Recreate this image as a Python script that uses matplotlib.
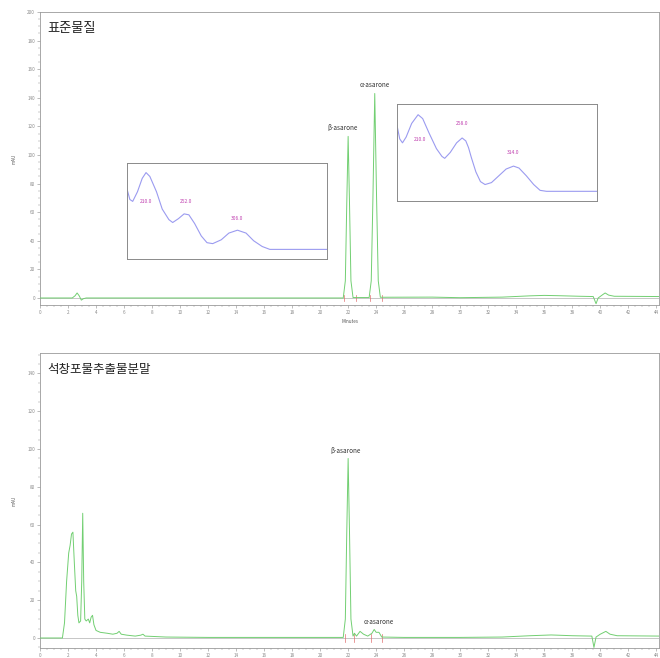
import matplotlib
matplotlib.use("Agg")
import matplotlib.pyplot as plt
from matplotlib.ticker import MultipleLocator, AutoMinorLocator

plt.rcParams['font.family'] = ['Noto Sans CJK KR', 'DejaVu Sans']

# 표준물질 chromatogram (minutes, mAU)
std_t = [0.0, 2.3, 2.5, 2.65, 2.8, 2.95, 3.1, 3.3, 21.65, 21.8, 21.9, 22.0,
         22.1, 22.2, 22.35, 23.5, 23.65, 23.77, 23.9, 24.03, 24.15, 24.3,
         28.0, 30.0, 33.0, 35.0, 36.0, 37.0, 38.5, 39.5, 39.7, 39.85, 40.2,
         40.35, 40.6, 41.0, 44.3]
std_v = [0.0, 0.0, 1.5, 3.5, 1.5, -1.5, -0.5, 0.0, 0.0, 12, 65, 113,
         65, 12, 0.3, 0.3, 12, 70, 143, 70, 12, 0.5,
         0.6, 0.2, 0.6, 1.5, 1.8, 1.6, 1.2, 1.0, -4.0, 0.0, 2.5,
         3.5, 2.0, 1.2, 1.0]

# 석창포물추출물분말 chromatogram
ext_t = [0.0, 1.6, 1.75, 1.9, 2.05, 2.15, 2.25, 2.35, 2.45, 2.55, 2.62, 2.7,
         2.78, 2.9, 2.98, 3.05, 3.12, 3.2, 3.3, 3.45, 3.55, 3.65, 3.75, 3.85,
         4.0, 4.3, 4.8, 5.2, 5.5, 5.65, 5.8, 6.2, 6.8, 7.2, 7.35, 7.5, 9.0,
         12.0, 21.65, 21.8, 21.9, 22.0, 22.1, 22.2, 22.35, 22.45, 22.6,
         22.85, 23.1, 23.4, 23.7, 23.86, 24.0, 24.2, 24.4, 26.0, 30.0, 33.0,
         35.0, 36.5, 38.0, 39.4, 39.55, 39.7, 40.0, 40.4, 40.7, 41.2, 44.3]
ext_v = [0.0, 0.0, 8, 30, 45, 49, 55, 56, 40, 25, 22, 12,
         8, 9, 30, 66, 30, 10, 9, 10, 8, 11, 12, 7,
         4, 3, 2.5, 2, 2.5, 3.5, 2, 1.5, 1, 1.5, 2, 1, 0.5,
         0.3, 0.3, 10, 55, 95, 55, 10, 1, 2.5, 1,
         3.5, 2, 1, 2.5, 4.5, 3, 3, 0.5, 0.3, 0.3, 0.5,
         1.2, 1.6, 1.2, 1.0, -5, 0.5, 2.0, 3.5, 2.0, 1.2, 1.0]

# integration event marks (minutes)
std_marks = [21.7, 22.55, 23.55, 24.4]
ext_marks = [21.75, 22.4, 23.6, 24.45]

# UV spectra in the insets (nm, relative absorbance)
spec1_nm = [190, 193, 196, 201, 206, 210, 214, 221, 227, 234, 238, 244, 250,
            255, 261, 268, 274, 280, 289, 297, 306, 315, 323, 332, 340, 400]
spec1_ab = [0.73, 0.62, 0.60, 0.70, 0.84, 0.90, 0.86, 0.70, 0.52, 0.41, 0.38,
            0.42, 0.47, 0.46, 0.37, 0.24, 0.17, 0.16, 0.20, 0.27, 0.30, 0.27,
            0.19, 0.13, 0.10, 0.10]
spec1_lbl = [(210, 0.60, "210.0"), (252, 0.60, "252.0"), (306, 0.42, "306.0")]

spec2_nm = [187, 190, 193, 197, 203, 210, 215, 222, 230, 236, 239, 245, 252,
            258, 262, 265, 268, 273, 278, 283, 290, 298, 306, 314, 320, 328,
            336, 343, 350, 405]
spec2_ab = [0.78, 0.64, 0.60, 0.66, 0.80, 0.89, 0.85, 0.70, 0.54, 0.46, 0.44,
            0.50, 0.60, 0.65, 0.62, 0.55, 0.45, 0.30, 0.20, 0.17, 0.19, 0.26,
            0.33, 0.36, 0.34, 0.26, 0.17, 0.11, 0.10, 0.10]
spec2_lbl = [(212, 0.63, "210.0"), (258, 0.80, "258.0"), (314, 0.50, "314.0")]

green = "#72cf72"
grey = "#8a8a8a"


def style_axes(ax, ymin, ymax):
    ax.set_xlim(0, 44.2)
    ax.set_ylim(ymin, ymax)
    ax.xaxis.set_major_locator(MultipleLocator(2))
    ax.yaxis.set_major_locator(MultipleLocator(20))
    ax.xaxis.set_minor_locator(AutoMinorLocator(4))
    ax.yaxis.set_minor_locator(AutoMinorLocator(4))
    ax.tick_params(which="major", length=2, width=0.4, labelsize=3.3,
                   colors=grey, pad=1.5)
    ax.tick_params(which="minor", length=1.2, width=0.3, colors=grey)
    for s in ax.spines.values():
        s.set_color("#9a9a9a")
        s.set_linewidth(0.6)
    ax.set_ylabel("mAU", fontsize=3.3, color="#555555", labelpad=8)
    ax.axhline(0, color="#bdbdbd", lw=0.6, zorder=1)


fig = plt.figure(figsize=(6.6, 6.58), dpi=100)

ax1 = fig.add_axes([0.0606, 0.5365, 0.938, 0.4453])
style_axes(ax1, -4.9, 200)
ax1.plot(std_t, std_v, color=green, lw=0.7, zorder=3)
for m in std_marks:
    ax1.plot([m, m], [-2, 2], color="#e07070", lw=0.5)
ax1.set_yticks(range(0, 201, 20))
ax1.set_xlabel("Minutes", fontsize=3.3, color="#555555", labelpad=3)
ax1.text(0.012, 0.965, "표준물질", transform=ax1.transAxes, fontsize=9.5,
         ha="left", va="top", color="#222222")
ax1.text(21.6, 116, "β-asarone", fontsize=4.6, style="italic", ha="center",
         va="bottom", color="#333333")
ax1.text(23.9, 146, "α-asarone", fontsize=4.6, style="italic", ha="center",
         va="bottom", color="#333333")

ax2 = fig.add_axes([0.0606, 0.0152, 0.938, 0.4483])
style_axes(ax2, -5.3, 150.8)
ax2.plot(ext_t, ext_v, color=green, lw=0.7, zorder=3)
for m in ext_marks:
    ax2.plot([m, m], [-2, 2], color="#e07070", lw=0.5)
ax2.set_yticks(range(0, 141, 20))
ax2.text(0.012, 0.965, "석창포물추출물분말", transform=ax2.transAxes,
         fontsize=9, ha="left", va="top", color="#222222")
ax2.text(21.8, 97, "β-asarone", fontsize=4.6, style="italic", ha="center",
         va="bottom", color="#333333")
ax2.text(24.2, 6.5, "α-asarone", fontsize=4.6, style="italic", ha="center",
         va="bottom", color="#333333")

# UV spectrum insets
insets = [([0.1924, 0.6064, 0.303, 0.1459], spec1_nm, spec1_ab, spec1_lbl, (190, 400)),
          ([0.6015, 0.6945, 0.303, 0.1474], spec2_nm, spec2_ab, spec2_lbl, (187, 405))]
for rect, nm, ab, lbls, xl in insets:
    ins = fig.add_axes(rect)
    ins.plot(nm, ab, color="#9b9bf0", lw=0.8)
    ins.set_xlim(*xl)
    ins.set_ylim(0, 1)
    ins.set_xticks([])
    ins.set_yticks([])
    for s in ins.spines.values():
        s.set_color("#8a8a8a")
        s.set_linewidth(0.7)
    for x, y, t in lbls:
        ins.text(x, y, t, fontsize=3.6, color="#c040b0", ha="center",
                 va="center")

fig.savefig("out.png", dpi=100)
